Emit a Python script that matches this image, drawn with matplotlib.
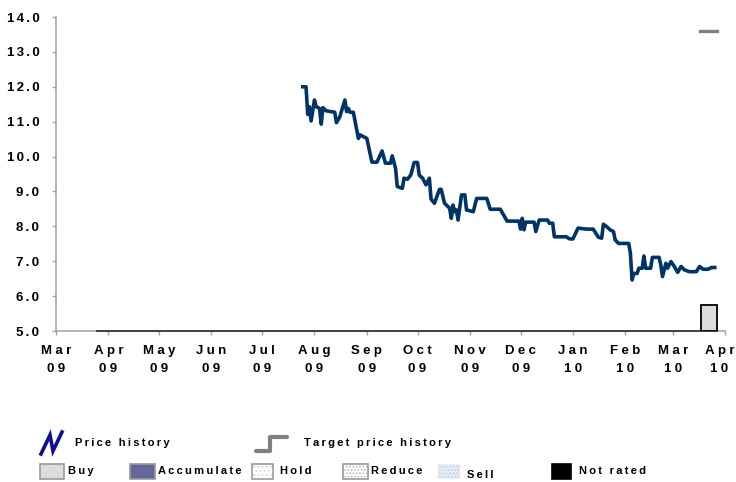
import numpy as np
import pandas as pd
import matplotlib.pyplot as plt
import matplotlib.dates as mdates
import matplotlib.ticker as ticker
from matplotlib.lines import Line2D
from matplotlib.patches import Rectangle
from matplotlib.transforms import ScaledTranslation

plt.rcParams['font.family'] = ['Liberation Sans', 'DejaVu Sans']
plt.rcParams['hatch.linewidth'] = 0.6

# %% data
price_dates = [
    '2009-07-24', '2009-07-27', '2009-07-28', '2009-07-29', '2009-07-30',
    '2009-08-01', '2009-08-02', '2009-08-04', '2009-08-05', '2009-08-06',
    '2009-08-08', '2009-08-13', '2009-08-14', '2009-08-16', '2009-08-19',
    '2009-08-20', '2009-08-21', '2009-08-22', '2009-08-24', '2009-08-27',
    '2009-08-28', '2009-09-01', '2009-09-04', '2009-09-07', '2009-09-10',
    '2009-09-12', '2009-09-15', '2009-09-16', '2009-09-18', '2009-09-19',
    '2009-09-22', '2009-09-23', '2009-09-25', '2009-09-27', '2009-09-29',
    '2009-10-01', '2009-10-02', '2009-10-04', '2009-10-06', '2009-10-08',
    '2009-10-09', '2009-10-11', '2009-10-14', '2009-10-15', '2009-10-17',
    '2009-10-20', '2009-10-21', '2009-10-22', '2009-10-23', '2009-10-24',
    '2009-10-25', '2009-10-27', '2009-10-29', '2009-10-30', '2009-11-03',
    '2009-11-05', '2009-11-11', '2009-11-13', '2009-11-19', '2009-11-23',
    '2009-11-30', '2009-12-01', '2009-12-02', '2009-12-03', '2009-12-04',
    '2009-12-09', '2009-12-10', '2009-12-12', '2009-12-17', '2009-12-18',
    '2009-12-20', '2009-12-21', '2009-12-28', '2009-12-30', '2010-01-01',
    '2010-01-04', '2010-01-09', '2010-01-13', '2010-01-16', '2010-01-18',
    '2010-01-19', '2010-01-21', '2010-01-23', '2010-01-25', '2010-01-26',
    '2010-01-28', '2010-01-30', '2010-02-03', '2010-02-04', '2010-02-05',
    '2010-02-06', '2010-02-08', '2010-02-09', '2010-02-11', '2010-02-12',
    '2010-02-13', '2010-02-16', '2010-02-17', '2010-02-21', '2010-02-22',
    '2010-02-23', '2010-02-25', '2010-02-26', '2010-02-28', '2010-03-02',
    '2010-03-04', '2010-03-06', '2010-03-08', '2010-03-11', '2010-03-15',
    '2010-03-17', '2010-03-19', '2010-03-22', '2010-03-24', '2010-03-27',
]
price_values = [
    12.00, 12.00, 11.21, 11.43, 11.02,
    11.62, 11.43, 11.38, 10.93, 11.40,
    11.31, 11.27, 10.97, 11.14, 11.62,
    11.29, 11.38, 11.27, 11.27, 10.52,
    10.62, 10.52, 9.84, 9.84, 10.16,
    9.81, 9.81, 10.02, 9.66, 9.14,
    9.09, 9.38, 9.35, 9.47, 9.83,
    9.83, 9.47, 9.38, 9.19, 9.38,
    8.78, 8.66, 9.06, 9.06, 8.66,
    8.52, 8.23, 8.61, 8.42, 8.47,
    8.18, 8.90, 8.90, 8.47, 8.42,
    8.80, 8.80, 8.49, 8.49, 8.15,
    8.15, 7.92, 8.23, 7.90, 8.12,
    8.12, 7.85, 8.18, 8.18, 8.09,
    8.09, 7.70, 7.70, 7.64, 7.64,
    7.95, 7.92, 7.92, 7.69, 7.66,
    8.06, 7.99, 7.90, 7.85, 7.61,
    7.51, 7.51, 7.51, 7.23, 6.46,
    6.65, 6.65, 6.80, 6.80, 7.15,
    6.80, 6.80, 7.11, 7.11, 6.89,
    6.56, 6.94, 6.80, 6.99, 6.85,
    6.68, 6.85, 6.75, 6.70, 6.70,
    6.85, 6.77, 6.77, 6.82, 6.82,
]

target_dates = ['2010-03-17', '2010-03-27']
target_values = [13.6, 13.6]

# rating history: one "Buy" block at the end
rating_start = '2010-03-18'
rating_end = '2010-03-27'
rating_top = 5.75
rating_line_dates = ['2009-03-25', '2010-03-27']

legend_ratings = ['Buy', 'Accumulate', 'Hold', 'Reduce', 'Sell', 'Not rated']


def spaced(s, gap):
    # widen letter spacing by putting a narrow space between characters
    return '\n'.join(gap.join(part) for part in s.split('\n'))


THIN = '\u2009'
Y_GAP = '\u2006'
X_GAP = '\u2005'

# %% plot
GRAY = '#a0a0a0'
NAVY = '#003366'

fig = plt.figure(figsize=(7.36, 4.82), dpi=100)
ax = fig.add_axes([56 / 736, 1 - 331 / 482, 669 / 736, 314 / 482])

px = pd.to_datetime(price_dates)
ax.plot(px, price_values, color=NAVY, lw=2.6, solid_joinstyle='round',
        solid_capstyle='butt', zorder=4)

ax.plot(pd.to_datetime(target_dates), target_values, color='#808080', lw=2.4,
        zorder=4)

# rating baseline and bar
ax.plot(pd.to_datetime(rating_line_dates), [5.0, 5.0], color='#404040',
        lw=1.4, zorder=5, clip_on=False)
r0 = pd.Timestamp(rating_start)
r1 = pd.Timestamp(rating_end)
ax.bar(r0, rating_top - 5.0, bottom=5.0, width=(r1 - r0).days, align='edge',
       color='#dcdcdc', edgecolor='black', linewidth=1.3, zorder=5)

ax.set_ylim(5.0, 14.0)
ax.set_xlim(pd.Timestamp('2009-03-01'), pd.Timestamp('2010-04-01'))
ax.yaxis.set_major_locator(ticker.MultipleLocator(1.0))
ax.yaxis.set_major_formatter(
    ticker.FuncFormatter(lambda v, p: spaced('%.1f' % v, Y_GAP)))
ax.xaxis.set_major_locator(mdates.MonthLocator())
ax.xaxis.set_major_formatter(
    ticker.FuncFormatter(
        lambda v, p: spaced(mdates.num2date(v).strftime('%b\n%y'), X_GAP)))

for side in ['top', 'right']:
    ax.spines[side].set_visible(False)
for side in ['left', 'bottom']:
    ax.spines[side].set_color(GRAY)
    ax.spines[side].set_linewidth(1.1)

ax.tick_params(axis='both', direction='out', length=3, width=1.0,
               color=GRAY, labelsize=9.5)
ax.tick_params(axis='y', pad=9)
ax.tick_params(axis='x', pad=7)
fig.canvas.draw()
for lbl in ax.get_xticklabels() + ax.get_yticklabels():
    lbl.set_fontweight('bold')
for lbl in ax.get_xticklabels():
    lbl.set_linespacing(1.65)

# nudge the last month label left so it stays inside the figure
last = ax.get_xticklabels()[-1]
last.set_transform(last.get_transform()
                   + ScaledTranslation(-0.055, 0, fig.dpi_scale_trans))

# %% legend drawn in figure pixels
W, H = 736, 482


def fx(x):
    return x / W


def fy(y):
    return 1 - y / H


fig.add_artist(Line2D([fx(41), fx(50), fx(53), fx(62)],
                      [fy(454), fy(435), fy(451), fy(432)],
                      color='#101090', lw=2.6, solid_joinstyle='miter'))
fig.text(fx(75), fy(443), spaced('Price history', THIN), fontsize=8,
         fontweight='bold', va='center')

fig.add_artist(Line2D([fx(256), fx(270), fx(270), fx(287)],
                      [fy(451), fy(451), fy(437), fy(437)],
                      color='#808080', lw=3.0, solid_capstyle='round',
                      solid_joinstyle='round'))
fig.text(fx(304), fy(443), spaced('Target price history', THIN), fontsize=8,
         fontweight='bold', va='center')

box_x = [40, 130, 252, 343, 438, 552]
text_x = [68, 158, 280, 371, 467, 579]
box_w = [24, 25, 21, 25, 22, 19]
box_face = ['#dcdcdc', '#666699', 'white', 'white', '#e4ecf4', 'black']
box_edge = ['#999999', '#999999', '#999999', '#999999', 'none', 'black']
box_hatch = [None, None, '....', '.....', '.....', None]
hatch_col = [None, None, '#c8c8c8', '#a8a8a8', '#b8c8dc', None]

for name, bx, tx, bw, fc, ec, hh, hc in zip(legend_ratings, box_x, text_x,
                                             box_w, box_face, box_edge,
                                             box_hatch, hatch_col):
    rect = Rectangle((fx(bx), fy(479)), fx(bw), 15 / H,
                     transform=fig.transFigure, facecolor=fc,
                     edgecolor=ec, linewidth=1.2)
    fig.add_artist(rect)
    if hh:
        over = Rectangle((fx(bx), fy(479)), fx(bw), 15 / H,
                         transform=fig.transFigure, facecolor='none',
                         edgecolor=hc, hatch=hh, linewidth=0)
        fig.add_artist(over)
    ty = 475 if name == 'Sell' else 471
    fig.text(fx(tx), fy(ty), spaced(name, THIN), fontsize=8,
             fontweight='bold', va='center')

fig.savefig('out.png', dpi=100)
